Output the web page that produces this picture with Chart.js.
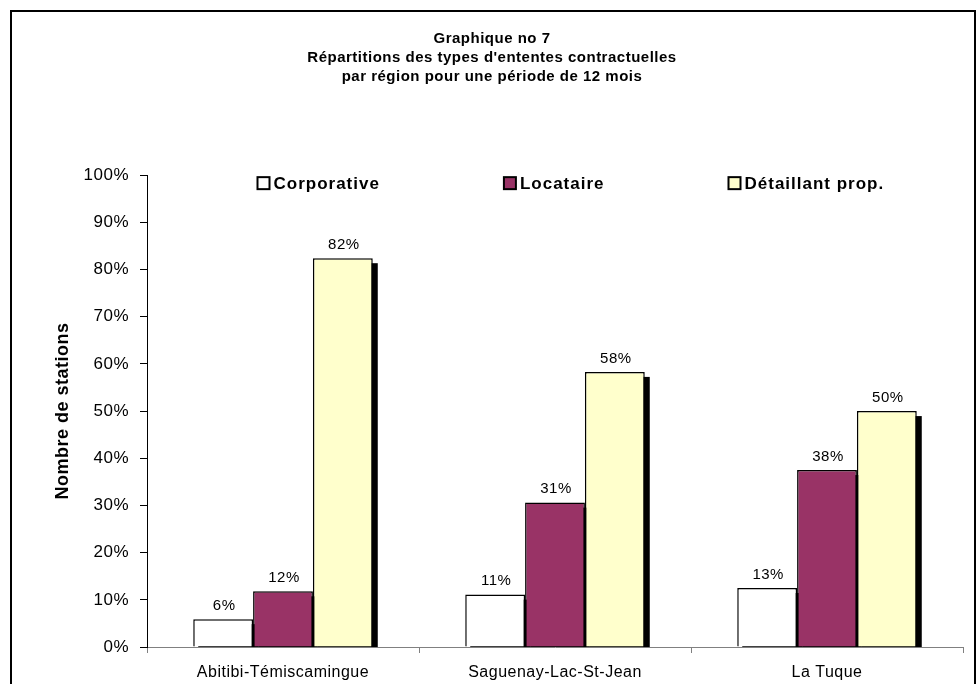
<!DOCTYPE html>
<html><head><meta charset="utf-8">
<script src="https://cdn.jsdelivr.net/npm/chart.js@4"></script>
<style>html,body{margin:0;padding:0;background:#fff}#wrap{width:979px;height:684px}</style>
</head><body><div id="wrap"><canvas id="c" width="979" height="684"></canvas></div>
<script>
const categories = ['Abitibi-Témiscamingue', 'Saguenay-Lac-St-Jean', 'La Tuque'];
const seriesNames = ['Corporative', 'Locataire', 'Détaillant prop.'];
const corporative = [5.9, 11.1, 12.5];
const locataire = [11.8, 30.6, 37.5];
const detaillant = [82.4, 58.3, 50.0];
const titleLines = ['Graphique no 7', "Répartitions des types d'ententes contractuelles", 'par région pour une période de 12 mois'];
const yAxisTitle = 'Nombre de stations';
const colors = ['#FFFFFF', '#993366', '#FFFFCC'];
const FONT = "'Liberation Sans', Arial, sans-serif";
const SPACING = '0.5px';

const spacingPlugin = {
  id: 'spacing',
  beforeUpdate(chart) { chart.ctx.letterSpacing = SPACING; },
  beforeLayout(chart) { chart.ctx.letterSpacing = SPACING; },
  beforeDraw(chart) { chart.ctx.letterSpacing = SPACING; }
};

const framePlugin = {
  id: 'frame',
  beforeDraw(chart) {
    const ctx = chart.ctx;
    ctx.save();
    ctx.fillStyle = '#fff';
    ctx.fillRect(0, 0, chart.width, chart.height);
    ctx.strokeStyle = '#000';
    ctx.lineWidth = 2;
    ctx.strokeRect(11, 11, 964, 720);
    ctx.restore();
  }
};

const shadowPlugin = {
  id: 'shadow',
  beforeDatasetsDraw(chart) {
    const ctx = chart.ctx;
    const area = chart.chartArea;
    ctx.save();
    ctx.beginPath();
    ctx.rect(area.left, area.top - 20, area.right - area.left, area.bottom - area.top + 20);
    ctx.clip();
    ctx.fillStyle = '#000';
    chart.data.datasets.forEach((ds, i) => {
      chart.getDatasetMeta(i).data.forEach(bar => {
        const w = bar.width;
        ctx.fillRect(bar.x - w / 2 + 5, bar.y + 5, w, bar.base - bar.y);
      });
    });
    ctx.restore();
  }
};

const labelPlugin = {
  id: 'valueLabels',
  afterDatasetsDraw(chart) {
    const ctx = chart.ctx;
    ctx.save();
    ctx.font = '15px ' + FONT;
    ctx.letterSpacing = SPACING;
    ctx.fillStyle = '#000';
    ctx.textAlign = 'center';
    ctx.textBaseline = 'bottom';
    chart.data.datasets.forEach((ds, i) => {
      chart.getDatasetMeta(i).data.forEach((bar, j) => {
        ctx.fillText(Math.round(ds.data[j]) + '%', bar.x + 1, bar.y - 6);
      });
    });
    ctx.restore();
  }
};

const legendPlugin = {
  id: 'customLegend',
  afterDraw(chart) {
    const ctx = chart.ctx;
    const area = chart.chartArea;
    ctx.save();
    ctx.font = 'bold 17px ' + FONT;
    ctx.letterSpacing = '1px';
    ctx.textBaseline = 'middle';
    ctx.textAlign = 'left';
    const box = 12, gapText = 4, gap = 124;
    const items = chart.data.datasets.map(ds => ({label: ds.label, color: ds.backgroundColor, w: box + gapText + ctx.measureText(ds.label).width}));
    const total = items.reduce((s, it) => s + it.w, 0) + gap * (items.length - 1);
    let x = Math.round((area.left + area.right) / 2 + 15 - total / 2) + 0.5;
    const y = area.top + 8;
    items.forEach(it => {
      ctx.fillStyle = it.color;
      ctx.fillRect(x, y - box / 2, box, box);
      ctx.strokeStyle = '#000';
      ctx.lineWidth = 2;
      ctx.strokeRect(x, y - box / 2, box, box);
      ctx.fillStyle = '#000';
      ctx.fillText(it.label, x + box + gapText, y + 1);
      x += it.w + gap;
    });
    ctx.restore();
  }
};

new Chart(document.getElementById('c'), {
  type: 'bar',
  data: {
    labels: categories,
    datasets: [
      {label: seriesNames[0], data: corporative, backgroundColor: colors[0]},
      {label: seriesNames[1], data: locataire, backgroundColor: colors[1]},
      {label: seriesNames[2], data: detaillant, backgroundColor: colors[2]}
    ].map(d => Object.assign(d, {borderColor: '#000', borderWidth: 1.5, borderSkipped: 'bottom', categoryPercentage: 0.66, barPercentage: 1}))
  },
  options: {
    responsive: false,
    animation: false,
    devicePixelRatio: 1,
    layout: {padding: {left: 21, right: 16, top: 0, bottom: 0}},
    plugins: {
      legend: {display: false},
      tooltip: {enabled: false},
      title: {
        display: true,
        text: titleLines,
        color: '#000',
        font: {family: FONT, size: 15, weight: 'bold', lineHeight: 1.27},
        padding: {top: 29.5, bottom: 88.5}
      }
    },
    scales: {
      x: {
        grid: {display: true, drawOnChartArea: false, color: '#808080', tickLength: 6, offset: true},
        border: {color: '#808080', width: 1},
        ticks: {color: '#000', font: {family: FONT, size: 16}, padding: 10},
        afterFit(s) { s.height = 37; }
      },
      y: {
        min: 0, max: 100,
        grid: {display: true, drawOnChartArea: false, color: '#000', tickLength: 7},
        border: {color: '#000', width: 1},
        ticks: {stepSize: 10, color: '#000', font: {family: FONT, size: 17}, padding: 11, callback: v => v + '%'},
        title: {display: true, text: yAxisTitle, color: '#000', font: {family: FONT, size: 18, weight: 'bold'}, padding: {top: 31, bottom: 0}},
        afterFit(s) { s.width = 126; }
      }
    }
  },
  plugins: [spacingPlugin, framePlugin, shadowPlugin, labelPlugin, legendPlugin]
});
</script></body></html>
